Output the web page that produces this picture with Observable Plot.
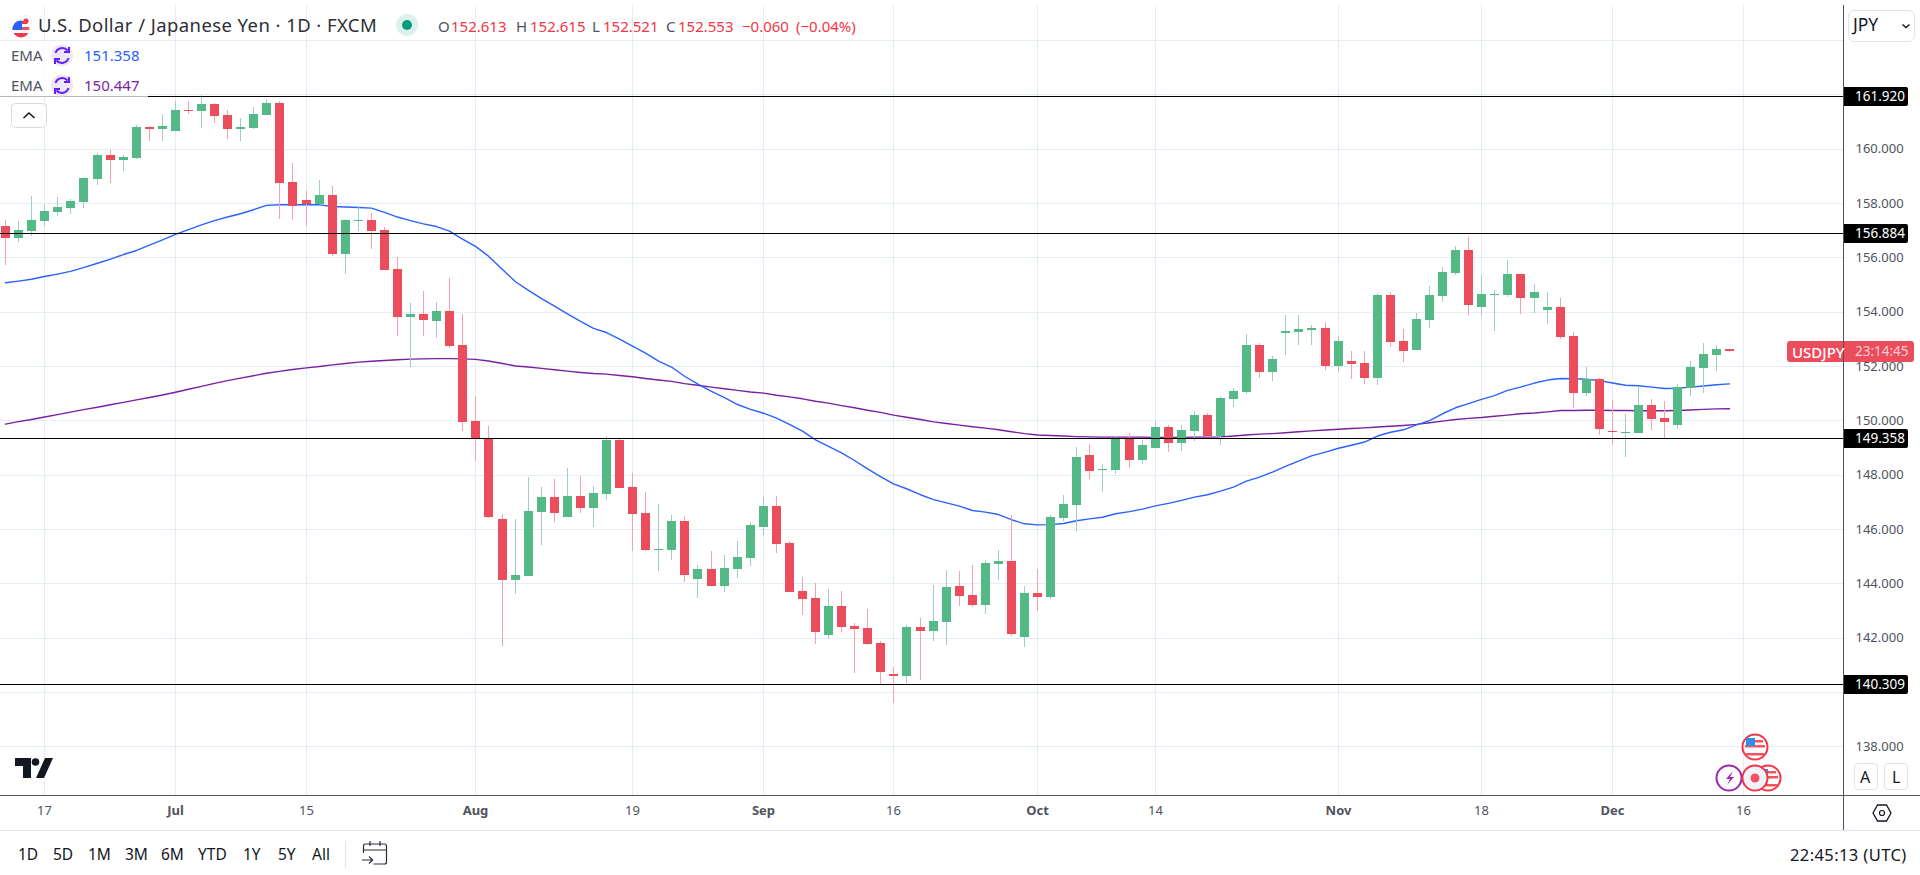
<!DOCTYPE html>
<html><head><meta charset="utf-8">
<script src="https://cdn.jsdelivr.net/npm/d3@7"></script>
<script src="https://cdn.jsdelivr.net/npm/@observablehq/plot@0.6"></script>
<style>
html,body{margin:0;padding:0;background:#fff;overflow:hidden}
#page{position:relative;width:1920px;height:875px;font-family:"Noto Sans",sans-serif;color:#131722}
#chart svg{display:block}
.t{position:absolute;white-space:nowrap;line-height:1;transform:translateY(-50%)}
.box{position:absolute;box-sizing:border-box}
.ov{position:absolute;left:0;top:0;pointer-events:none}
</style></head><body>
<div id="page">
<div id="chart"></div>
<div class="box" style="left:0;top:795px;width:1920px;height:1px;background:#50535e"></div>
<div class="box" style="left:1843px;top:5px;width:1px;height:825px;background:#50535e"></div>
<div class="box" style="left:0;top:830px;width:1920px;height:1px;background:#e0e3eb"></div>
<div class="box" style="left:0;top:41px;width:148px;height:56px;background:rgba(255,255,255,.72)"></div>

<svg class="ov" width="1920" height="875" id="icons">
  <g><circle cx="26" cy="21" r="5.5" fill="#fff" stroke="#eee"/><circle cx="26" cy="21" r="2.6" fill="#f23645"/>
  <clipPath id="cf"><circle cx="21" cy="29" r="8.5"/></clipPath>
  <g clip-path="url(#cf)"><rect x="12" y="20" width="18" height="18" fill="#fff"/><rect x="12" y="21" width="18" height="3" fill="#f23645"/><rect x="12" y="27" width="18" height="3" fill="#f7525f"/><rect x="12" y="33" width="18" height="5" fill="#f23645"/><rect x="12" y="20" width="10" height="10" fill="#2962ff"/></g></g>
  <circle cx="407" cy="25" r="11" fill="#daf1ed"/><circle cx="407" cy="25" r="5" fill="#089981"/>
  <g id="ema1"><circle cx="62" cy="55.5" r="11" fill="#ede7f6"/><path d="M55.5 53a7 7 0 0 1 12-2.5M68.5 58a7 7 0 0 1-12 2.5" fill="none" stroke="#651fff" stroke-width="2"/><path d="M69 47v5h-5M55 64v-5h5" fill="none" stroke="#651fff" stroke-width="2"/></g>
  <g transform="translate(0,30)"><circle cx="62" cy="55.5" r="11" fill="#ede7f6"/><path d="M55.5 53a7 7 0 0 1 12-2.5M68.5 58a7 7 0 0 1-12 2.5" fill="none" stroke="#651fff" stroke-width="2"/><path d="M69 47v5h-5M55 64v-5h5" fill="none" stroke="#651fff" stroke-width="2"/></g>
  <rect x="11.5" y="103.5" width="35" height="24" rx="4" fill="#fff" stroke="#d8dae3"/><path d="M23.5 118l5.5-5 5.5 5" fill="none" stroke="#131722" stroke-width="1.6"/>
  <path d="M15 758h16v20h-8v-12h-8z" fill="#131722"/><circle cx="35.500" cy="762" r="3.800" fill="#131722"/><path d="M45 758h8l-9 20h-8z" fill="#131722"/>
  <g fill="none" stroke="#2a2e39" stroke-width="1.2"><path d="M363.500 853v-7a2 2 0 0 1 2-2h19a2 2 0 0 1 2 2v16a2 2 0 0 1-2 2h-11M363.500 850h23M370 841v5M380 841v5M362 860h10M369 856.500l3.500 3.500-3.500 3.500"/></g>
  <path d="M1873 813l4.500-8h9l4.500 8-4.500 8h-9z" fill="none" stroke="#131722" stroke-width="1.3"/><circle cx="1882" cy="813" r="2.500" fill="none" stroke="#131722" stroke-width="1.2"/>
  <path d="M1902.500 24.500l3.500 3 3.500-3" fill="none" stroke="#131722" stroke-width="1.4"/>
  <defs><g id="us"><circle r="12.500" fill="#fff" stroke="#f23645" stroke-width="2"/><rect x="-10" y="-2" width="20" height="2.500" fill="#f7525f"/><rect x="-10" y="3" width="20" height="2.500" fill="#fff"/><rect x="-9" y="6" width="18" height="2.500" fill="#f7525f"/><rect x="-2" y="-7" width="10" height="2.500" fill="#f7525f"/><rect x="-9" y="-9" width="9" height="8" fill="#2f8ff0"/></g></defs>
  <use href="#us" x="1755" y="747"/><use href="#us" x="1768" y="778"/>
  <circle cx="1729" cy="778" r="12.500" fill="#fff" stroke="#9c27b0" stroke-width="2"/><path d="M1733 771l-7 8h4l-3 6 7-8h-4z" fill="#9c27b0"/>
  <circle cx="1755" cy="778" r="12.500" fill="#f0f3fa" stroke="#f23645" stroke-width="2"/><circle cx="1755" cy="778" r="4.500" fill="#f7525f"/>
</svg>

<div class="t" style="left:38px;top:25px;font-size:18.5px;color:#2e2e36;letter-spacing:.42px">U.S. Dollar / Japanese Yen · 1D · FXCM</div>
<div class="t" style="left:438px;top:26px;font-size:15px;color:#50535e">O</div><div class="t" style="left:451px;top:26px;font-size:15px;color:#f23645">152.613</div>
<div class="t" style="left:516px;top:26px;font-size:15px;color:#50535e">H</div><div class="t" style="left:530px;top:26px;font-size:15px;color:#f23645">152.615</div>
<div class="t" style="left:592px;top:26px;font-size:15px;color:#50535e">L</div><div class="t" style="left:603px;top:26px;font-size:15px;color:#f23645">152.521</div>
<div class="t" style="left:666px;top:26px;font-size:15px;color:#50535e">C</div><div class="t" style="left:678px;top:26px;font-size:15px;color:#f23645">152.553</div>
<div class="t" style="left:742px;top:26px;font-size:15px;color:#f23645">−0.060</div><div class="t" style="left:796px;top:26px;font-size:15px;color:#f23645">(−0.04%)</div>
<div class="t" style="left:11px;top:55px;font-size:15px;color:#50535e">EMA</div><div class="t" style="left:84px;top:55px;font-size:15px;color:#2962ff">151.358</div>
<div class="t" style="left:11px;top:85px;font-size:15px;color:#50535e">EMA</div><div class="t" style="left:84px;top:85px;font-size:15px;color:#7b1fa2">150.447</div>

<div class="box" style="left:1848px;top:10px;width:67px;height:32px;border:1px solid #e0e3eb;border-radius:6px"></div>
<div class="t" style="left:1853px;top:25px;font-size:17.5px">JPY</div>
<div class="box" style="left:1854px;top:763px;width:24px;height:27px;border:1px solid #e0e3eb;border-radius:4px;background:#fff"></div>
<div class="t" style="left:1860px;top:777px;font-size:16px">A</div>
<div class="box" style="left:1884px;top:763px;width:24px;height:27px;border:1px solid #e0e3eb;border-radius:4px;background:#fff"></div>
<div class="t" style="left:1892px;top:777px;font-size:16px">L</div>

<div id="ranges"></div>
<div class="box" style="left:345px;top:841px;width:1px;height:27px;background:#e0e3eb"></div>
<div class="t" style="left:1790px;top:855px;font-size:16.5px;letter-spacing:.4px">22:45:13 (UTC)</div>
<div id="tags"></div>
</div>
<script>
const opens=[157.15,156.72,156.97,157.34,157.67,157.82,158.04,158.88,159.77,159.58,159.66,160.80,160.72,160.65,161.43,161.39,161.64,161.24,160.72,160.76,161.24,161.68,158.77,158.11,157.96,158.29,156.12,157.33,157.37,157.01,155.57,153.80,153.91,153.66,154.02,152.77,149.98,149.35,146.37,144.12,144.27,146.63,147.18,146.44,147.21,146.77,147.29,149.28,147.55,146.59,145.22,145.23,146.29,144.16,144.53,143.90,144.53,144.93,146.07,146.85,145.48,143.72,143.46,142.10,143.17,142.43,142.36,141.80,140.66,140.59,142.39,142.25,142.58,143.90,143.57,143.20,144.71,144.82,142.02,143.64,143.50,146.40,146.88,148.72,148.17,148.17,149.31,148.54,148.98,149.75,149.17,149.61,150.20,149.41,150.79,151.04,152.77,151.78,153.21,153.25,153.33,153.40,152.00,152.18,152.11,151.56,154.61,152.92,152.59,153.69,154.58,155.42,156.27,154.17,154.61,154.61,155.39,154.50,154.06,154.17,153.10,151.01,151.52,149.61,149.53,149.53,150.56,150.09,149.83,151.19,151.93,152.40,152.613];
const highs=[157.37,157.34,158.26,157.96,158.22,158.15,158.96,159.84,159.95,159.77,160.87,160.83,161.28,161.75,161.75,161.96,161.68,161.42,161.13,161.53,161.83,161.75,159.47,158.44,158.85,158.63,157.41,157.89,157.63,157.12,156.01,154.32,154.76,154.36,155.24,153.91,150.90,149.79,146.55,146.37,147.91,147.55,147.84,148.25,147.95,147.58,149.42,149.35,148.06,147.36,146.92,146.52,146.48,144.67,145.19,145.04,145.56,146.26,147.18,147.21,145.56,144.23,144.01,143.79,143.72,142.54,143.06,141.88,140.92,142.47,142.72,143.94,144.49,144.45,144.67,144.86,145.23,146.52,143.90,144.53,146.52,147.25,149.02,149.13,148.39,149.37,149.53,149.28,149.98,149.83,149.83,150.34,150.27,150.90,151.19,153.18,152.85,152.37,153.88,153.88,153.51,153.62,153.10,152.55,152.55,154.69,154.72,153.36,153.95,154.94,155.64,156.42,156.74,155.35,154.80,155.90,155.39,155.02,154.72,154.50,153.25,151.96,151.56,150.75,150.23,151.23,150.79,150.71,151.34,152.18,152.85,152.77,152.615];
const lows=[155.73,156.58,156.80,157.15,157.52,157.60,157.82,158.66,158.74,159.18,159.62,160.28,160.28,160.65,161.28,160.76,160.94,160.36,160.28,160.72,161.24,157.41,157.37,157.15,157.96,156.05,155.39,156.97,156.31,155.53,153.10,151.96,153.10,153.03,152.66,149.61,148.50,146.40,141.69,143.61,144.27,145.41,146.26,146.44,146.59,146.07,147.07,147.51,145.19,145.19,144.45,144.86,144.05,143.46,143.90,143.68,144.20,144.64,145.78,145.12,143.68,142.83,141.77,141.95,142.21,140.70,141.73,140.29,139.60,140.32,140.44,141.88,141.73,143.17,143.13,142.87,144.12,142.06,141.66,142.98,143.42,146.29,145.93,147.84,147.36,148.02,148.25,148.39,148.98,148.83,148.87,149.24,149.41,149.09,150.49,150.97,151.56,151.45,152.40,152.77,152.77,151.85,151.78,151.52,151.34,151.30,152.70,152.15,152.59,153.40,154.36,155.35,153.88,153.84,153.29,154.54,153.91,153.95,153.55,152.99,150.45,150.90,149.46,149.09,148.65,149.53,149.64,149.35,149.68,150.90,151.01,151.82,152.521];
const closes=[156.72,157.01,157.37,157.71,157.85,158.07,158.92,159.77,159.58,159.69,160.80,160.72,160.83,161.42,161.39,161.64,161.20,160.72,160.80,161.28,161.68,158.74,157.89,157.96,158.29,156.12,157.37,157.37,156.97,155.53,153.80,153.91,153.69,154.02,152.74,149.94,149.31,146.44,144.12,144.31,146.66,147.18,146.59,147.21,146.77,147.33,149.28,147.51,146.55,145.23,145.26,146.29,144.31,144.53,143.90,144.56,144.97,146.15,146.85,145.45,143.68,143.42,142.21,143.17,142.39,142.32,141.77,140.74,140.59,142.39,142.25,142.61,143.87,143.53,143.20,144.75,144.82,142.13,143.64,143.50,146.44,146.92,148.65,148.13,148.21,149.34,148.54,149.09,149.75,149.17,149.64,150.20,149.41,150.82,151.08,152.77,151.78,152.26,153.29,153.36,153.40,152.00,152.92,152.07,151.56,154.61,152.88,152.55,153.73,154.61,155.46,156.27,154.25,154.65,154.65,155.39,154.50,154.72,154.17,153.07,151.01,151.52,149.68,149.57,149.57,150.56,150.05,149.94,151.23,151.96,152.44,152.63,152.553];
const ema50=[155.08,155.14,155.21,155.31,155.40,155.50,155.64,155.80,155.95,156.12,156.27,156.47,156.66,156.86,157.04,157.21,157.37,157.50,157.62,157.77,157.93,157.95,157.95,157.95,157.95,157.89,157.87,157.85,157.83,157.67,157.50,157.37,157.25,157.15,156.98,156.69,156.42,156.06,155.57,155.12,154.80,154.50,154.22,153.94,153.66,153.40,153.25,153.01,152.75,152.49,152.20,151.98,151.64,151.36,151.08,150.85,150.60,150.42,150.28,150.10,149.87,149.62,149.30,149.06,148.82,148.54,148.23,147.95,147.68,147.50,147.28,147.10,146.98,146.86,146.70,146.64,146.55,146.36,146.21,146.17,146.18,146.22,146.32,146.39,146.45,146.58,146.66,146.75,146.87,146.96,147.07,147.19,147.28,147.41,147.56,147.78,147.93,148.11,148.32,148.52,148.71,148.85,148.99,149.10,149.22,149.44,149.58,149.67,149.85,150.01,150.26,150.48,150.63,150.79,150.93,151.12,151.24,151.39,151.50,151.56,151.55,151.53,151.48,151.39,151.31,151.29,151.24,151.19,151.20,151.24,151.28,151.33,151.358];
const ema200=[149.88,149.97,150.05,150.14,150.23,150.32,150.41,150.50,150.59,150.68,150.77,150.86,150.95,151.05,151.16,151.27,151.38,151.48,151.57,151.66,151.75,151.82,151.89,151.95,152.00,152.06,152.11,152.16,152.19,152.22,152.25,152.27,152.28,152.29,152.29,152.28,152.26,152.20,152.11,152.02,151.98,151.93,151.88,151.83,151.78,151.74,151.72,151.67,151.62,151.56,151.50,151.45,151.37,151.31,151.24,151.18,151.12,151.06,151.02,150.94,150.88,150.81,150.72,150.65,150.56,150.48,150.39,150.31,150.21,150.13,150.05,149.96,149.90,149.84,149.78,149.73,149.67,149.60,149.53,149.48,149.46,149.44,149.42,149.41,149.40,149.40,149.40,149.40,149.39,149.39,149.39,149.40,149.40,149.41,149.44,149.48,149.51,149.53,149.56,149.60,149.63,149.66,149.69,149.72,149.74,149.77,149.80,149.83,149.87,149.93,149.99,150.05,150.09,150.12,150.17,150.21,150.26,150.29,150.33,150.38,150.38,150.39,150.39,150.38,150.38,150.37,150.37,150.37,150.38,150.40,150.42,150.44,150.447];
const levels=[161.920,156.884,149.358,140.309];
const gridPrices=[138,140,142,144,146,148,150,152,154,156,158,160,162,164];
const labelPrices=[138,142,144,146,148,150,152,154,156,158,160];
const dayBars=[3,23,48,68,88,113,133];
const dayLabels=["17","15","19","16","14","18","16"];
const monthBars=[13,36,58,79,102,123];
const monthLabels=["Jul","Aug","Sep","Oct","Nov","Dec"];
const rangeLabels=["1D","5D","1M","3M","6M","YTD","1Y","5Y","All"];
const rangeLefts=[18,53,88,125,161,198,243,278,312];

const rows=opens.map((o,i)=>({i,o,h:highs[i],l:lows[i],c:closes[i]}));
const up=rows.filter(d=>d.c>=d.o), down=rows.filter(d=>d.c<d.o);
const emaA=ema50.map((v,i)=>({i,v})), emaB=ema200.map((v,i)=>({i,v}));
const UP="#53b987",DOWN="#eb4d5c",UPW="#a3cbc8",DOWNW="#f7a1ab",GRID="#e4edf3",INK="#50535e",FONT='"Noto Sans",sans-serif';
const wick=(data,stroke)=>Plot.ruleX(data,{x:"i",y1:"l",y2:"h",stroke,strokeWidth:1,shapeRendering:"crispEdges"});
const body=(data,stroke)=>Plot.ruleX(data,{x:"i",y1:"o",y2:"c",stroke,strokeWidth:9,shapeRendering:"crispEdges"});
const chart=Plot.plot({
  width:1920,height:875,marginLeft:0,marginRight:77,marginTop:5,marginBottom:80,
  style:{fontFamily:FONT,background:"transparent",overflow:"visible"},
  x:{domain:[-0.39,140.69],round:true,label:null},
  y:{domain:[136.21,165.286],label:null},
  marks:[
    Plot.gridX(dayBars.concat(monthBars),{stroke:GRID,strokeOpacity:1,shapeRendering:"crispEdges"}),
    Plot.gridY(gridPrices,{stroke:GRID,strokeOpacity:1,shapeRendering:"crispEdges"}),
    Plot.line(emaB,{x:"i",y:"v",stroke:"#7b1fa2",strokeWidth:1.4}),
    Plot.line(emaA,{x:"i",y:"v",stroke:"#2962ff",strokeWidth:1.4}),
    wick(up,UPW),wick(down,DOWNW),body(up,UP),body(down,DOWN),
    Plot.ruleY(levels,{stroke:"#000",strokeWidth:1,shapeRendering:"crispEdges"}),
    Plot.axisY(labelPrices,{anchor:"right",tickSize:0,tickPadding:12,tickFormat:d=>d.toFixed(3),fontSize:13,fill:INK,label:null}),
    Plot.axisX(dayBars,{anchor:"bottom",tickSize:0,tickPadding:10,tickFormat:d=>dayLabels[dayBars.indexOf(d)],fontSize:13,fill:INK,label:null}),
    Plot.axisX(monthBars,{anchor:"bottom",tickSize:0,tickPadding:10,tickFormat:d=>monthLabels[monthBars.indexOf(d)],fontSize:13,fontWeight:700,fill:INK,label:null})
  ]
});
document.getElementById("chart").append(chart);

const sy=chart.scale("y");
const tags=document.getElementById("tags");
levels.forEach(v=>{
  const y=sy.apply(v);
  const b=document.createElement("div");b.className="box";
  b.style.cssText=`left:1844px;top:${Math.round(y)-9}px;width:64px;height:19px;background:#000;border-radius:0 2px 2px 0`;
  tags.append(b);
  const t=document.createElement("div");t.className="t";t.textContent=v.toFixed(3);
  t.style.cssText=`left:1855px;top:${Math.round(y)+.5}px;font-size:13.5px;color:#fff`;
  tags.append(t);
});
const ly=sy.apply(closes[closes.length-1]);
const bg=document.createElement("div");bg.className="box";
bg.style.cssText=`left:1787px;top:${Math.round(ly)-10}px;width:127px;height:21px;background:#eb4d5c;border-radius:3px`;
tags.append(bg);
const sep=document.createElement("div");sep.className="box";
sep.style.cssText=`left:1843px;top:${Math.round(ly)-10}px;width:1px;height:21px;background:#50535e`;
tags.append(sep);
[["USDJPY",1792,"#fff",15,500],["23:14:45",1855,"rgba(255,255,255,.72)",13.5,400]].forEach(([s,x,c,fs,w])=>{
  const t=document.createElement("div");t.className="t";t.textContent=s;
  t.style.cssText=`left:${x}px;top:${Math.round(ly)+.5}px;font-size:${fs}px;font-weight:${w};color:${c}`;
  tags.append(t);
});
const rg=document.getElementById("ranges");
rangeLabels.forEach((s,k)=>{
  const t=document.createElement("div");t.className="t";t.textContent=s;
  t.style.cssText=`left:${rangeLefts[k]}px;top:855px;font-size:15.5px`;
  rg.append(t);
});
</script>
</body></html>
